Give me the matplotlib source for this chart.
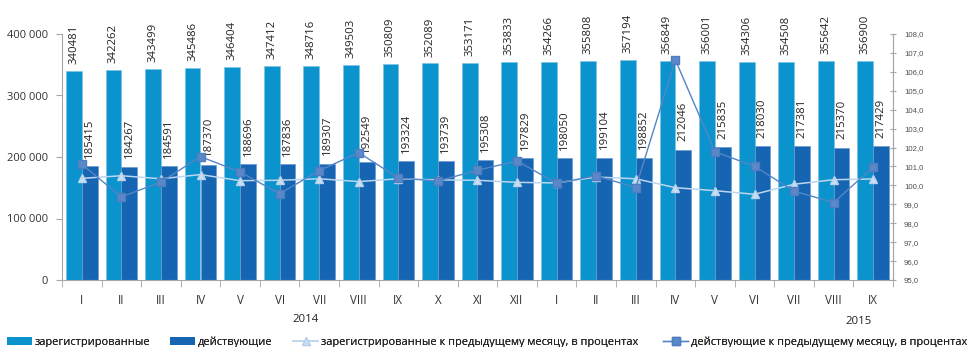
import matplotlib
matplotlib.use("Agg")
import matplotlib.pyplot as plt
from matplotlib.ticker import FuncFormatter, FixedLocator
from matplotlib.lines import Line2D
from matplotlib.patches import Patch
import numpy as np

plt.rcParams['font.family'] = ['Open Sans', 'DejaVu Sans']

months = ["I", "II", "III", "IV", "V", "VI", "VII", "VIII", "IX", "X", "XI", "XII",
          "I", "II", "III", "IV", "V", "VI", "VII", "VIII", "IX"]
registered = [340481, 342262, 343499, 345486, 346404, 347412, 348716, 349503, 350809,
              352089, 353171, 353833, 354266, 355808, 357194, 356849, 356001, 354306,
              354508, 355642, 356900]
active = [185415, 184267, 184591, 187370, 188696, 187836, 189307, 192549, 193324,
          193739, 195308, 197829, 198050, 199104, 198852, 212046, 215835, 218030,
          217381, 215370, 217429]
registered_pct = [100.37, 100.51, 100.35, 100.57, 100.25, 100.27, 100.35, 100.20, 100.35,
                  100.29, 100.27, 100.16, 100.13, 100.44, 100.35, 99.88, 99.72, 99.53,
                  100.06, 100.30, 100.34]
active_pct = [101.12, 99.39, 100.18, 101.52, 100.71, 99.56, 100.78, 101.73, 100.39,
              100.23, 100.80, 101.29, 100.11, 100.51, 99.88, 106.63, 101.78, 101.01,
              99.70, 99.09, 100.97]
years = ["2014", "2015"]
series_names = ["зарегистрированные", "действующие",
                "зарегистрированные к предыдущему месяцу, в процентах",
                "действующие к предыдущему месяцу, в процентах"]

c_light = "#0A93CD"
c_dark = "#1565B2"
c_sq = "#5585C6"
c_tri = "#BCD6EE"
c_axis = "#A6A6A6"
c_text = "#333333"

fig = plt.figure(figsize=(9.73, 3.47), dpi=100)
ax = fig.add_axes([62/973, 1-280/347, (893-62)/973, (280-34)/347])
x = np.arange(len(months))
w = 0.4
b1 = ax.bar(x - w/2, registered, w, color=c_light, edgecolor="#7FC3E6", linewidth=0.5)
b2 = ax.bar(x + w/2, active, w, color=c_dark, edgecolor="#6A9AD0", linewidth=0.5)
ax.bar_label(b1, rotation=90, padding=5, fontsize=8.2, color="#222222")
ax.bar_label(b2, rotation=90, padding=6, fontsize=8.2, color="#222222")

ax.set_xlim(-0.5, len(months) - 0.5)
ax.set_ylim(0, 400000)
ax.set_yticks([0, 100000, 200000, 300000, 400000])
ax.yaxis.set_major_formatter(FuncFormatter(lambda v, p: f"{int(v):,}".replace(",", " ")))
ax.set_xticks(x)
ax.set_xticklabels(months)
ax.xaxis.set_minor_locator(FixedLocator(np.arange(-0.5, len(months), 1.0)))
ax.tick_params(axis='x', which='major', length=0, pad=10, labelsize=8.4, colors=c_text)
ax.tick_params(axis='x', which='minor', length=5, color=c_axis, direction='out')
ax.tick_params(axis='y', length=4, color=c_axis, labelsize=8.0, colors=c_text, pad=6)
ax.spines["top"].set_visible(False)
for s in ["left", "bottom", "right"]:
    ax.spines[s].set_color(c_axis)

ax2 = ax.twinx()
ax2.plot(x, registered_pct, color=c_tri, marker="^", markersize=5.5,
         markerfacecolor="#C8DEF2", markeredgecolor="#B8D2EC", linewidth=1.1)
ax2.plot(x, active_pct, color=c_sq, marker="s", markersize=5.2,
         markerfacecolor="#5B88C8", markeredgecolor="#4F7DBF", linewidth=1.0)
ax2.set_ylim(95, 108)
ax2.set_yticks(np.arange(95, 108.5, 1))
ax2.yaxis.set_major_formatter(FuncFormatter(lambda v, p: f"{v:.1f}".replace(".", ",")))
ax2.tick_params(axis='y', length=4, direction='inout', color=c_axis, labelsize=5.6,
                colors="#505050", pad=6)
for lab in ax2.get_yticklabels():
    lab.set_family(['Liberation Sans', 'DejaVu Sans'])
ax2.spines["top"].set_visible(False)
ax2.spines["right"].set_color(c_axis)
ax2.spines["left"].set_visible(False)
ax2.spines["bottom"].set_visible(False)

ax.text(5.66, -0.16, years[0], transform=ax.get_xaxis_transform(), ha='center',
        va='center', fontsize=8.2, color="#222222")
ax.text(19.63, -0.17, years[1], transform=ax.get_xaxis_transform(), ha='center',
        va='center', fontsize=8.2, color="#222222")

handles = [Patch(facecolor=c_light, edgecolor="none"),
           Patch(facecolor=c_dark, edgecolor="none"),
           Line2D([], [], color=c_tri, marker="^", markersize=5.5,
                  markerfacecolor="#C8DEF2", markeredgecolor="#B8D2EC", linewidth=1.1),
           Line2D([], [], color=c_sq, marker="s", markersize=5.2,
                  markerfacecolor="#5B88C8", markeredgecolor="#4F7DBF", linewidth=1.0)]
leg_x = [7, 170, 293, 663]
fs = 7.9
hl = 25 / (fs * 100 / 72)
for h, name, px in zip(handles, series_names, leg_x):
    lg = fig.legend([h], [name], loc="center left", bbox_to_anchor=(px / 973, 1 - 342 / 347),
                    frameon=False, fontsize=fs, handlelength=hl, handleheight=0.75,
                    handletextpad=0.25, borderpad=0, borderaxespad=0, labelcolor="#222222")
    fig.add_artist(lg)

fig.savefig("out.png", dpi=100)
